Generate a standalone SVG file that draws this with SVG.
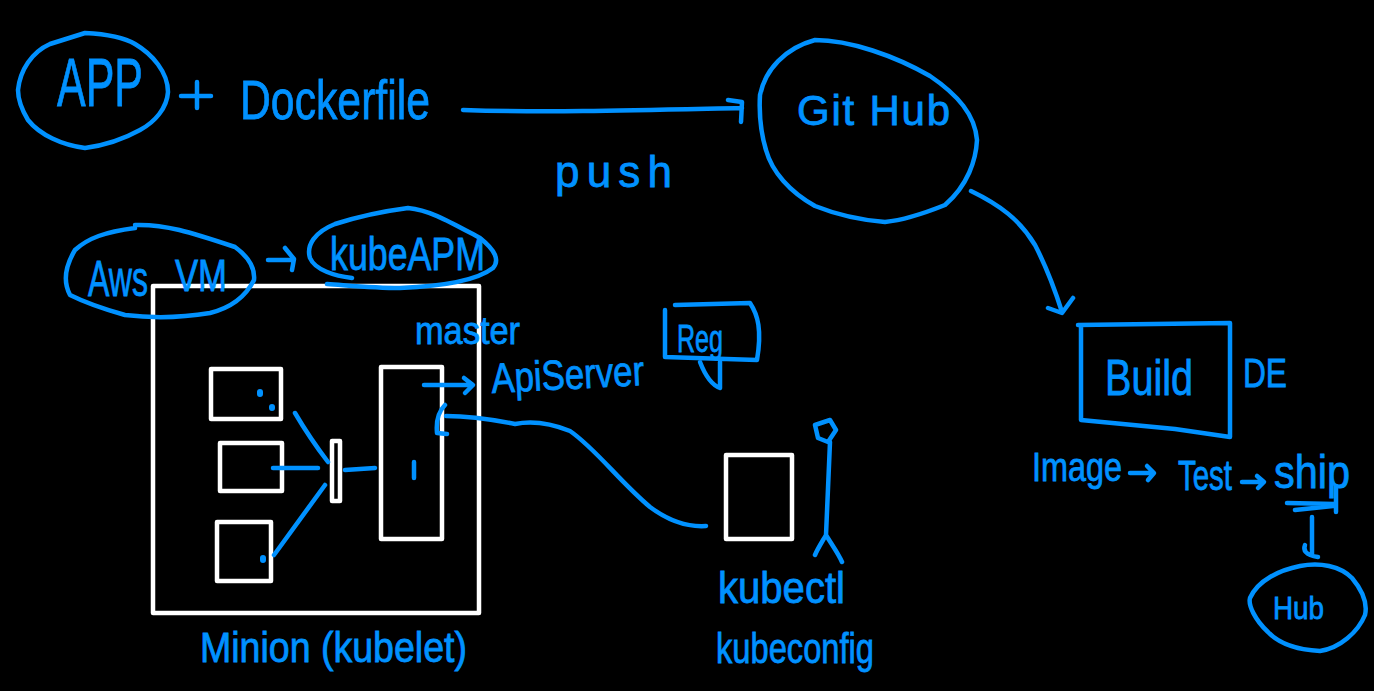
<svg xmlns="http://www.w3.org/2000/svg" width="1374" height="691" viewBox="0 0 1374 691">
<style>
.p{fill:none;stroke:#0091ff;stroke-width:4.5;stroke-linecap:round;stroke-linejoin:round}
.w{fill:none;stroke:#fff;stroke-width:4.5;stroke-linejoin:round}
text{font-family:"Liberation Sans",Arial,sans-serif;fill:#0091ff;stroke:#0091ff;stroke-width:.8}
</style>
<rect width="1374" height="691" fill="#000"/>
<g id="minion-frame"><rect class="w" x="153" y="286" width="326" height="327"/></g>
<g id="pod-1"><rect class="w" x="211" y="369" width="70" height="50"/></g>
<g id="pod-2"><rect class="w" x="220" y="443" width="62" height="48"/></g>
<g id="pod-3"><rect class="w" x="217" y="522" width="54" height="59"/></g>
<g id="kube-proxy"><rect class="w" x="332" y="441" width="8" height="60"/></g>
<g id="master"><rect class="w" x="381" y="367" width="61" height="172"/></g>
<g id="client"><rect class="w" x="726" y="455" width="66" height="84"/></g>
<g id="app"><path class="p" d="M18 90C20 70 32 52 50 44L85 33C105 34 125 38 135 44C152 54 168 72 168 92C167 108 155 122 140 130C122 140 100 146 85 148C62 145 40 135 28 120C22 110 18 100 18 90Z"/><text x="57" y="106" font-size="68" textLength="86" lengthAdjust="spacingAndGlyphs">APP</text></g>
<g id="plus"><path class="p" d="M181 96H211M197 82V108"/></g>
<g id="dockerfile"><text x="240" y="119" font-size="56" textLength="190" lengthAdjust="spacingAndGlyphs">Dockerfile</text></g>
<g id="github"><path class="p" d="M760 95C765 70 785 48 815 40C850 40 895 56 930 76C958 95 975 115 977 140C976 160 968 185 945 205C925 213 905 220 885 222C860 220 835 214 815 206C790 192 772 172 766 150C760 130 759 112 760 95Z"/><text x="797" y="125" font-size="42" textLength="153" lengthAdjust="spacing">Git Hub</text></g>
<g id="push"><text x="555" y="187" font-size="44" textLength="117" lengthAdjust="spacing">push</text></g>
<g id="build"><path class="p" d="M1078 325L1230 323V437L1175 429L1081 420V325"/><text x="1105" y="395" font-size="50" textLength="88" lengthAdjust="spacingAndGlyphs">Build</text></g>
<g id="de"><text x="1243" y="387" font-size="40" textLength="44" lengthAdjust="spacingAndGlyphs">DE</text></g>
<g id="image"><text x="1032" y="481" font-size="40" textLength="90" lengthAdjust="spacingAndGlyphs">Image</text></g>
<g id="test"><text x="1178" y="490" font-size="42" textLength="54" lengthAdjust="spacingAndGlyphs">Test</text></g>
<g id="ship"><text x="1274" y="488" font-size="46" textLength="76" lengthAdjust="spacingAndGlyphs">ship</text></g>
<g id="hub"><path class="p" d="M1300 566C1320 562 1340 566 1352 578C1362 590 1368 602 1365 615C1358 632 1340 648 1320 651C1300 650 1280 645 1268 632C1255 620 1248 605 1250 598C1258 580 1280 570 1300 566Z"/><text x="1273" y="619" font-size="31" textLength="51" lengthAdjust="spacingAndGlyphs">Hub</text></g>
<g id="aws-vm"><path class="p" d="M135 225C165 224 190 232 235 247C250 258 255 270 254 280C245 298 230 308 210 313C180 318 150 318 125 315C100 308 80 300 70 295C62 280 66 265 75 250C88 238 105 232 135 228"/><text x="88" y="296" font-size="50" textLength="60" lengthAdjust="spacingAndGlyphs">Aws</text><text x="175" y="291" font-size="44" textLength="52" lengthAdjust="spacingAndGlyphs">VM</text></g>
<g id="kubeapm"><path class="p" d="M352 278C335 276 315 270 310 258C306 245 315 232 335 224C360 216 385 211 408 208C430 210 450 222 480 238C495 250 500 260 493 268C480 278 450 286 400 288C375 288 355 286 327 284"/><text x="330" y="270" font-size="46" textLength="155" lengthAdjust="spacingAndGlyphs">kubeAPM</text></g>
<g id="master-label"><text x="415" y="344" font-size="38" textLength="105" lengthAdjust="spacingAndGlyphs">master</text></g>
<g id="apiserver"><text x="492" y="393" font-size="42" textLength="153" lengthAdjust="spacingAndGlyphs" transform="rotate(-3 492 393)">ApiServer</text></g>
<g id="reg"><path class="p" d="M675 305L750 303C758 315 762 330 757 360L665 357V310M700 362C705 375 712 385 720 388L720 362"/><text x="677" y="352" font-size="38" textLength="46" lengthAdjust="spacingAndGlyphs">Reg</text></g>
<g id="user"><path class="p" d="M815 425L830 420L836 430L828 442L818 438ZM830 442L826 535M826 535C822 542 818 548 815 555M826 535C832 545 838 553 842 562"/></g>
<g id="kubectl"><text x="718" y="603" font-size="44" textLength="127" lengthAdjust="spacingAndGlyphs">kubectl</text></g>
<g id="kubeconfig"><text x="716" y="663" font-size="42" textLength="158" lengthAdjust="spacingAndGlyphs">kubeconfig</text></g>
<g id="minion-label"><text x="200" y="662" font-size="42" textLength="267" lengthAdjust="spacingAndGlyphs">Minion (kubelet)</text></g>
<g id="connectors">
<path class="p" d="M463 110C550 113 650 110 742 108M728 100L742 102L741 122"/>
<path class="p" d="M971 191C1000 205 1020 220 1035 245C1048 270 1055 290 1062 312M1048 308L1062 313L1073 298"/>
<path class="p" d="M268 260H293M285 248L294 259L292 270"/>
<path class="p" d="M424 385H472M464 378L473 385L465 393"/>
<path class="p" d="M445 405C438 412 436 422 437 433L447 434M446 416C470 416 495 420 515 424C535 420 555 425 570 431C595 448 620 482 650 507C670 522 690 527 706 526"/>
<path class="p" d="M295 413C305 430 315 445 328 462M273 468L318 468M274 555L325 485M345 470L375 468M414 462V478"/>
<path class="p" style="stroke-width:6" d="M260 392V394M272 407V408M263 558V560"/>
<path class="p" d="M1130 473H1153M1147 466L1154 473L1148 480M1242 482H1263M1257 476L1264 482L1258 488"/>
<path class="p" d="M1287 503L1335 504M1295 510L1333 506M1336 486V512"/>
<path class="p" d="M1312 517L1312 555M1305 545C1303 550 1305 555 1318 557"/>
</g>
</svg>
